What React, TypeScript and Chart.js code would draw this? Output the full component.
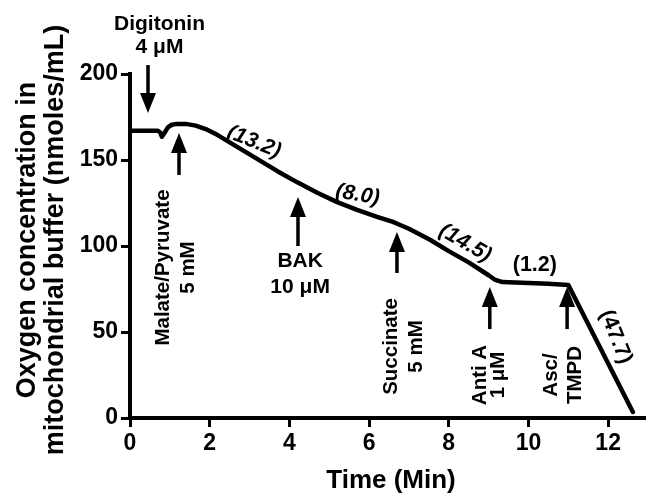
import React, { useEffect, useRef } from 'react';
import { Chart, registerables } from 'chart.js';

Chart.register(...registerables);

// ---- data ----
const timeMin = [0, 0.7, 0.76, 0.8, 0.86, 0.95, 1.05, 1.18, 1.4, 1.65, 1.9, 2.2, 2.45, 2.7, 3.2, 3.7, 4.2, 4.7, 5.2, 5.7, 6.2, 6.6, 6.75, 7.0, 7.54, 8.0, 8.5, 9.0, 9.15, 9.35, 10.0, 10.5, 11.0, 12.62];
const oxygen = [167, 167, 166, 163.5, 165.5, 169, 170.5, 171, 171, 170, 168, 164.5, 161, 157.5, 150.5, 143.5, 137, 131, 125.5, 121, 117, 114, 112.5, 110, 103.5, 97, 90.5, 83, 80.5, 79, 78.5, 78, 77.3, 3.5];

const xTicks = [0, 2, 4, 6, 8, 10, 12];
const yTicks = [0, 50, 100, 150, 200];

// arrows: x position, tail value, tip value (data units)
const arrowX = [0.452, 1.23, 4.216, 6.7, 9.03, 10.97];
const arrowTail = [205.2, 141.3, 100, 84.3, 51.7, 51.7];
const arrowTip = [177.3, 165.7, 128.5, 108.1, 76.2, 76.2];

// horizontal labels
const hLabelText = ['Digitonin', '4 \u03bcM', 'BAK', '10 \u03bcM'];
const hLabelX = [0.74, 0.74, 4.27, 4.27];
const hLabelY = [225.6, 212.2, 87.8, 72.7];

// vertical (rotated) labels: baseline x, centre y
const vLabelText = ['Malate/Pyruvate', '5 mM', 'Succinate', '5 mM', 'Anti A', '1 \u03bcM', 'Asc/', 'TMPD'];
const vLabelX = [0.98, 1.6, 6.70, 7.33, 8.93, 9.39, 10.71, 11.32];
const vLabelY = [87.5, 87.5, 41.6, 41.6, 25, 25, 25, 25];

// rate labels
const rateText = ['(13.2)', '(8.0)', '(14.5)', '(1.2)', '(47.7)'];
const rateX = [3.11, 5.71, 8.41, 10.16, 12.19];
const rateY = [160.5, 129.7, 101.7, 89, 47.1];
const rateAngle = [22, 10, 30, 0, 68];
const rateItalic = [true, true, true, false, false];

const yTitle = ['Oxygen concentration in', 'mitochondrial buffer (nmoles/mL)'];
const xTitle = 'Time (Min)';

const FONT = '"Liberation Sans", Arial, Helvetica, sans-serif';

const annotPlugin = {
  id: 'annot',
  afterDraw(chart: any) {
    const ctx = chart.ctx as CanvasRenderingContext2D;
    const xs = chart.scales.x;
    const ys = chart.scales.y;
    const ca = chart.chartArea;
    ctx.save();
    ctx.fillStyle = '#000';
    ctx.strokeStyle = '#000';

    // arrows
    for (let i = 0; i < arrowX.length; i++) {
      const x = xs.getPixelForValue(arrowX[i]);
      const yt = ys.getPixelForValue(arrowTail[i]);
      const yp = ys.getPixelForValue(arrowTip[i]);
      const dir = yp > yt ? 1 : -1;
      const headLen = 20;
      const headW = 8;
      ctx.lineWidth = 3.5;
      ctx.beginPath();
      ctx.moveTo(x, yt);
      ctx.lineTo(x, yp - dir * (headLen - 2));
      ctx.stroke();
      ctx.beginPath();
      ctx.moveTo(x, yp);
      ctx.lineTo(x - headW, yp - dir * headLen);
      ctx.lineTo(x + headW, yp - dir * headLen);
      ctx.closePath();
      ctx.fill();
    }

    // horizontal labels
    ctx.font = `bold 21px ${FONT}`;
    ctx.textAlign = 'center';
    ctx.textBaseline = 'alphabetic';
    for (let i = 0; i < hLabelText.length; i++) {
      ctx.fillText(hLabelText[i], xs.getPixelForValue(hLabelX[i]), ys.getPixelForValue(hLabelY[i]));
    }

    // vertical labels
    for (let i = 0; i < vLabelText.length; i++) {
      ctx.save();
      ctx.translate(xs.getPixelForValue(vLabelX[i]), ys.getPixelForValue(vLabelY[i]));
      ctx.rotate(-Math.PI / 2);
      ctx.font = `bold 20.5px ${FONT}`;
      ctx.textAlign = 'center';
      ctx.textBaseline = 'alphabetic';
      ctx.fillText(vLabelText[i], 0, 0);
      ctx.restore();
    }

    // rate labels
    for (let i = 0; i < rateText.length; i++) {
      ctx.save();
      ctx.translate(xs.getPixelForValue(rateX[i]), ys.getPixelForValue(rateY[i]));
      ctx.rotate((rateAngle[i] * Math.PI) / 180);
      ctx.font = `${rateItalic[i] ? 'italic ' : ''}bold 21.5px ${FONT}`;
      ctx.textAlign = 'center';
      ctx.textBaseline = 'middle';
      ctx.fillText(rateText[i], 0, 0);
      ctx.restore();
    }

    // axis titles
    ctx.font = `bold 27px ${FONT}`;
    ctx.textAlign = 'center';
    ctx.textBaseline = 'alphabetic';
    const cy = 240;
    const baseX = [35, 63];
    for (let i = 0; i < yTitle.length; i++) {
      ctx.save();
      ctx.translate(baseX[i], cy);
      ctx.rotate(-Math.PI / 2);
      ctx.fillText(yTitle[i], 0, 0);
      ctx.restore();
    }
    ctx.font = `bold 26px ${FONT}`;
    ctx.fillText(xTitle, (ca.left + ca.right) / 2 + 3, 488);
    ctx.restore();
  },
};

export default function App() {
  const ref = useRef<HTMLCanvasElement | null>(null);
  useEffect(() => {
    if (!ref.current) return;
    const chart = new Chart(ref.current, {
      type: 'line',
      data: {
        datasets: [
          {
            data: timeMin.map((t, i) => ({ x: t, y: oxygen[i] })),
            borderColor: '#000',
            borderWidth: 4.5,
            pointRadius: 0,
            tension: 0,
            fill: false,
            borderJoinStyle: 'round',
            borderCapStyle: 'round',
          },
        ],
      },
      options: {
        animation: false,
        responsive: false,
        devicePixelRatio: 1,
        layout: { padding: { top: 74, right: 0, left: 0, bottom: 0 } },
        plugins: { legend: { display: false }, tooltip: { enabled: false }, title: { display: false } },
        scales: {
          x: {
            type: 'linear',
            min: 0,
            max: 12.95,
            afterBuildTicks: (s: any) => {
              s.ticks = xTicks.map((v) => ({ value: v }));
            },
            afterFit: (s: any) => {
              s.height = 77;
            },
            ticks: {
              color: '#000',
              font: { family: FONT, size: 23, weight: 'bold' },
              padding: 3,
              maxRotation: 0,
              autoSkip: false,
            },
            grid: { display: true, drawOnChartArea: false, drawTicks: true, tickLength: 9, lineWidth: 3, color: '#000' },
            border: { display: true, color: '#000', width: 4 },
          },
          y: {
            type: 'linear',
            min: 0,
            max: 200,
            afterBuildTicks: (s: any) => {
              s.ticks = yTicks.map((v) => ({ value: v }));
            },
            afterFit: (s: any) => {
              s.width = 130;
            },
            ticks: {
              color: '#000',
              font: { family: FONT, size: 23, weight: 'bold' },
              padding: 3,
              autoSkip: false,
            },
            grid: { display: true, drawOnChartArea: false, drawTicks: true, tickLength: 9, lineWidth: 3, color: '#000' },
            border: { display: true, color: '#000', width: 4 },
          },
        },
      },
      plugins: [annotPlugin],
    });
    return () => chart.destroy();
  }, []);
  return (
    <div style={{ position: 'fixed', left: 0, top: 0, width: 646, height: 495, background: '#fff' }}>
      <canvas ref={ref} width={646} height={495} style={{ display: 'block' }} />
    </div>
  );
}
